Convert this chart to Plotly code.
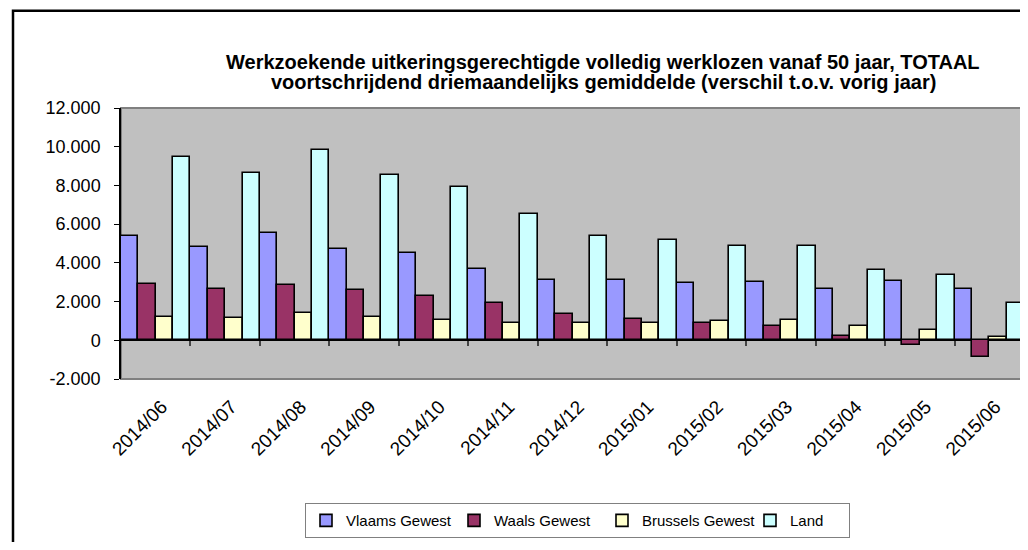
import plotly.graph_objects as go

categories = ["2014/06", "2014/07", "2014/08", "2014/09", "2014/10", "2014/11", "2014/12",
              "2015/01", "2015/02", "2015/03", "2015/04", "2015/05", "2015/06"]
vlaams = [5370, 4820, 5540, 4700, 4510, 3700, 3090, 3140, 2970, 3030, 2670, 3085, 2640]
waals = [2900, 2640, 2850, 2600, 2300, 1920, 1370, 1100, 895, 760, 210, -240, -870]
brussels = [1180, 1130, 1410, 1180, 1065, 875, 875, 910, 1000, 1030, 740, 550, 175]
land = [9460, 8620, 9840, 8540, 7920, 6550, 5385, 5160, 4885, 4855, 3620, 3395, 1925]

series_names = ["Vlaams Gewest", "Waals Gewest", "Brussels Gewest", "Land"]
series_values = [vlaams, waals, brussels, land]
series_colors = ["#9999FF", "#993366", "#FFFFCC", "#CCFFFF"]

title_lines = ["Werkzoekende uitkeringsgerechtigde volledig werklozen vanaf 50 jaar, TOTAAL",
               "voortschrijdend driemaandelijks gemiddelde (verschil t.o.v. vorig jaar)"]

y_tickvals = [-2000, 0, 2000, 4000, 6000, 8000, 10000, 12000]
y_ticktext = ["-2.000", "0", "2.000", "4.000", "6.000", "8.000", "10.000", "12.000"]
Y_MIN, Y_MAX = -2000, 12000

FONT = "Liberation Sans, Arial, sans-serif"

fig = go.Figure()
for i, (name, vals, col) in enumerate(zip(series_names, series_values, series_colors)):
    kw = {}
    if i == len(series_names) - 1:
        kw["legendwidth"] = 54
    fig.add_trace(go.Bar(
        x=categories, y=vals, name=name,
        marker=dict(color=col, line=dict(color="black", width=1.6)),
        **kw,
    ))

n = len(categories)
boundaries = [i + 0.5 for i in range(n - 1)]
# helper trace (draws nothing) so the boundary-tick axis on the zero line is rendered
fig.add_trace(go.Scatter(
    x=boundaries, y=[None] * len(boundaries), xaxis="x2", yaxis="y",
    mode="markers", showlegend=False, hoverinfo="skip",
))

# page body has an 8px margin; figure is laid out in page pixels minus 8
OFF = 8
W, H = 1028 - OFF, 550 - 2 * OFF
L, R, T, B = 121 - OFF, W - (1024 - OFF), 108 - OFF, H - (381 - OFF)
pw, ph = W - L - R, H - T - B

def px_x(x):
    return (x - OFF - L) / pw

def px_y(y):
    return (H - B - (y - OFF)) / ph

annotations = []
for line, yc in zip(title_lines, [62, 82]):
    annotations.append(dict(
        text="<b>" + line + "</b>",
        xref="paper", yref="paper", x=px_x(603), y=px_y(yc),
        xanchor="center", yanchor="middle", showarrow=False,
        font=dict(size=20, family=FONT, color="black"),
    ))

fig.update_layout(
    width=W, height=H,
    margin=dict(l=L, r=R, t=T, b=B),
    paper_bgcolor="white",
    plot_bgcolor="#C0C0C0",
    barmode="group", bargap=0, bargroupgap=0,
    font=dict(family=FONT, color="black", size=14),
    showlegend=True,
    legend=dict(
        orientation="h", x=px_x(305), y=px_y(506), xanchor="left", yanchor="top",
        bordercolor="#808080", borderwidth=1, bgcolor="white",
        font=dict(size=15), entrywidth=103, itemwidth=30,
    ),
    annotations=annotations,
    shapes=[
        dict(type="rect", xref="paper", yref="paper", x0=0, x1=1, y0=0, y1=1,
             line=dict(color="#808080", width=2), layer="below"),
        dict(type="rect", xref="paper", yref="paper", x0=px_x(13), x1=px_x(1045),
             y0=px_y(565), y1=px_y(10), line=dict(color="black", width=2.5)),
    ],
    xaxis=dict(
        type="category", tickangle=-45, showgrid=False, ticks="",
        tickfont=dict(size=19), showline=False,
        ticklabelstandoff=12, ticklabelshift=6,
    ),
    xaxis2=dict(
        overlaying="x", anchor="free", side="bottom",
        position=(0 - Y_MIN) / (Y_MAX - Y_MIN),
        range=[-0.5, n - 0.5], tickvals=boundaries, showticklabels=False,
        ticks="outside", ticklen=5, tickwidth=1.5, tickcolor="#444444",
        showgrid=False, zeroline=False, showline=False,
    ),
    yaxis=dict(
        range=[Y_MIN, Y_MAX], tickvals=y_tickvals, ticktext=y_ticktext,
        showgrid=False, zeroline=True, zerolinecolor="black", zerolinewidth=2,
        showline=True, linecolor="black", linewidth=1.5,
        ticks="outside", ticklen=5, tickcolor="black",
        tickfont=dict(size=18), ticklabelstandoff=10,
    ),
)

fig.write_html("out.html")
